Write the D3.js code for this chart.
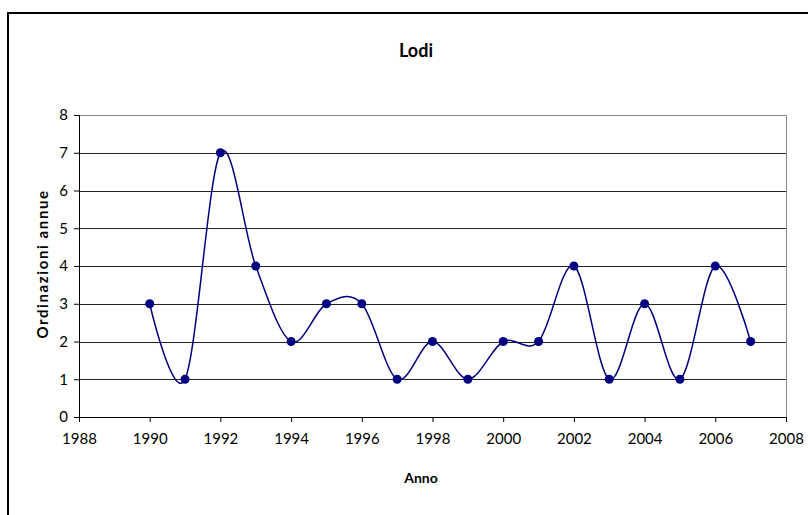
<!DOCTYPE html>
<html>
<head>
<meta charset="utf-8">
<script src="https://cdn.jsdelivr.net/npm/d3@7"></script>
<style>
  body { margin: 0; background: #fff; }
  text { font-family: Lato, "Open Sans", sans-serif; fill: #000; }
</style>
</head>
<body>
<div id="chart"></div>
<script>
// data
var years = [1990, 1991, 1992, 1993, 1994, 1995, 1996, 1997, 1998, 1999, 2000, 2001, 2002, 2003, 2004, 2005, 2006, 2007];
var orders = [3, 1, 7, 4, 2, 3, 3, 1, 2, 1, 2, 2, 4, 1, 3, 1, 4, 2];
var xTicks = [1988, 1990, 1992, 1994, 1996, 1998, 2000, 2002, 2004, 2006, 2008];
var yTicks = [0, 1, 2, 3, 4, 5, 6, 7, 8];

var W = 808, H = 515;
var margin = {top: 115, right: 22, bottom: 98, left: 79},
  width = W - margin.left - margin.right,
  height = H - margin.top - margin.bottom;

var svg = d3.select("#chart")
  .append("svg")
  .attr("width", W)
  .attr("height", H);

// outer chart border (runs off the right and bottom edge)
svg.append("rect")
  .attr("x", 8).attr("y", 13)
  .attr("width", W + 20).attr("height", H + 20)
  .attr("fill", "none")
  .attr("stroke", "#000")
  .attr("stroke-width", 2);

var g = svg.append("g")
  .attr("transform", "translate(" + margin.left + "," + margin.top + ")");

var x = d3.scaleLinear().domain([1988, 2008]).range([0, width]);
var y = d3.scaleLinear().domain([0, 8]).range([height, 0]);

// gridlines
g.selectAll(".grid")
  .data(yTicks.slice(1))
  .enter().append("line")
    .attr("x1", 0).attr("x2", width)
    .attr("y1", function(d) { return Math.round(y(d)) + 0.5; })
    .attr("y2", function(d) { return Math.round(y(d)) + 0.5; })
    .attr("stroke", function(d) { return d == 8 ? "#888" : "#222"; })
    .attr("stroke-width", 1);

// plot area right border
g.append("line")
  .attr("x1", width + 0.5).attr("x2", width + 0.5)
  .attr("y1", 0).attr("y2", height)
  .attr("stroke", "#888");

// axes
var xAxis = g.append("g")
  .attr("transform", "translate(0," + height + ")")
  .call(d3.axisBottom(x).tickValues(xTicks).tickFormat(d3.format("d")).tickSizeOuter(0).tickSize(5).tickPadding(11));
xAxis.selectAll("text").style("font-size", "15px");
xAxis.select(".domain").attr("stroke", "#000");

var yAxis = g.append("g")
  .call(d3.axisLeft(y).tickValues(yTicks).tickSizeOuter(0).tickSize(5).tickPadding(6));
yAxis.selectAll("text").style("font-size", "15px");

// smoothed line
var line = d3.line()
  .x(function(d, i) { return x(years[i]); })
  .y(function(d) { return y(d); })
  .curve(d3.curveCardinal.tension(0));

g.append("path")
  .datum(orders)
  .attr("d", line)
  .attr("fill", "none")
  .attr("stroke", "#000080")
  .attr("stroke-width", 1.5);

g.selectAll(".dot")
  .data(orders)
  .enter().append("circle")
    .attr("cx", function(d, i) { return x(years[i]); })
    .attr("cy", function(d) { return y(d); })
    .attr("r", 4.5)
    .attr("fill", "#000080");

// title
svg.append("text")
  .attr("x", 416).attr("y", 57)
  .attr("text-anchor", "middle")
  .style("font-size", "18px")
  .style("font-weight", "bold")
  .text("Lodi");

// axis titles
svg.append("text")
  .attr("x", 421).attr("y", 483)
  .attr("text-anchor", "middle")
  .style("font-size", "14px")
  .style("font-weight", "bold")
  .text("Anno");

svg.append("text")
  .attr("transform", "translate(48,264) rotate(-90)")
  .attr("text-anchor", "middle")
  .style("font-size", "15px")
  .style("font-weight", "bold")
  .style("letter-spacing", "1.6px")
  .text("Ordinazioni annue");
</script>
</body>
</html>
